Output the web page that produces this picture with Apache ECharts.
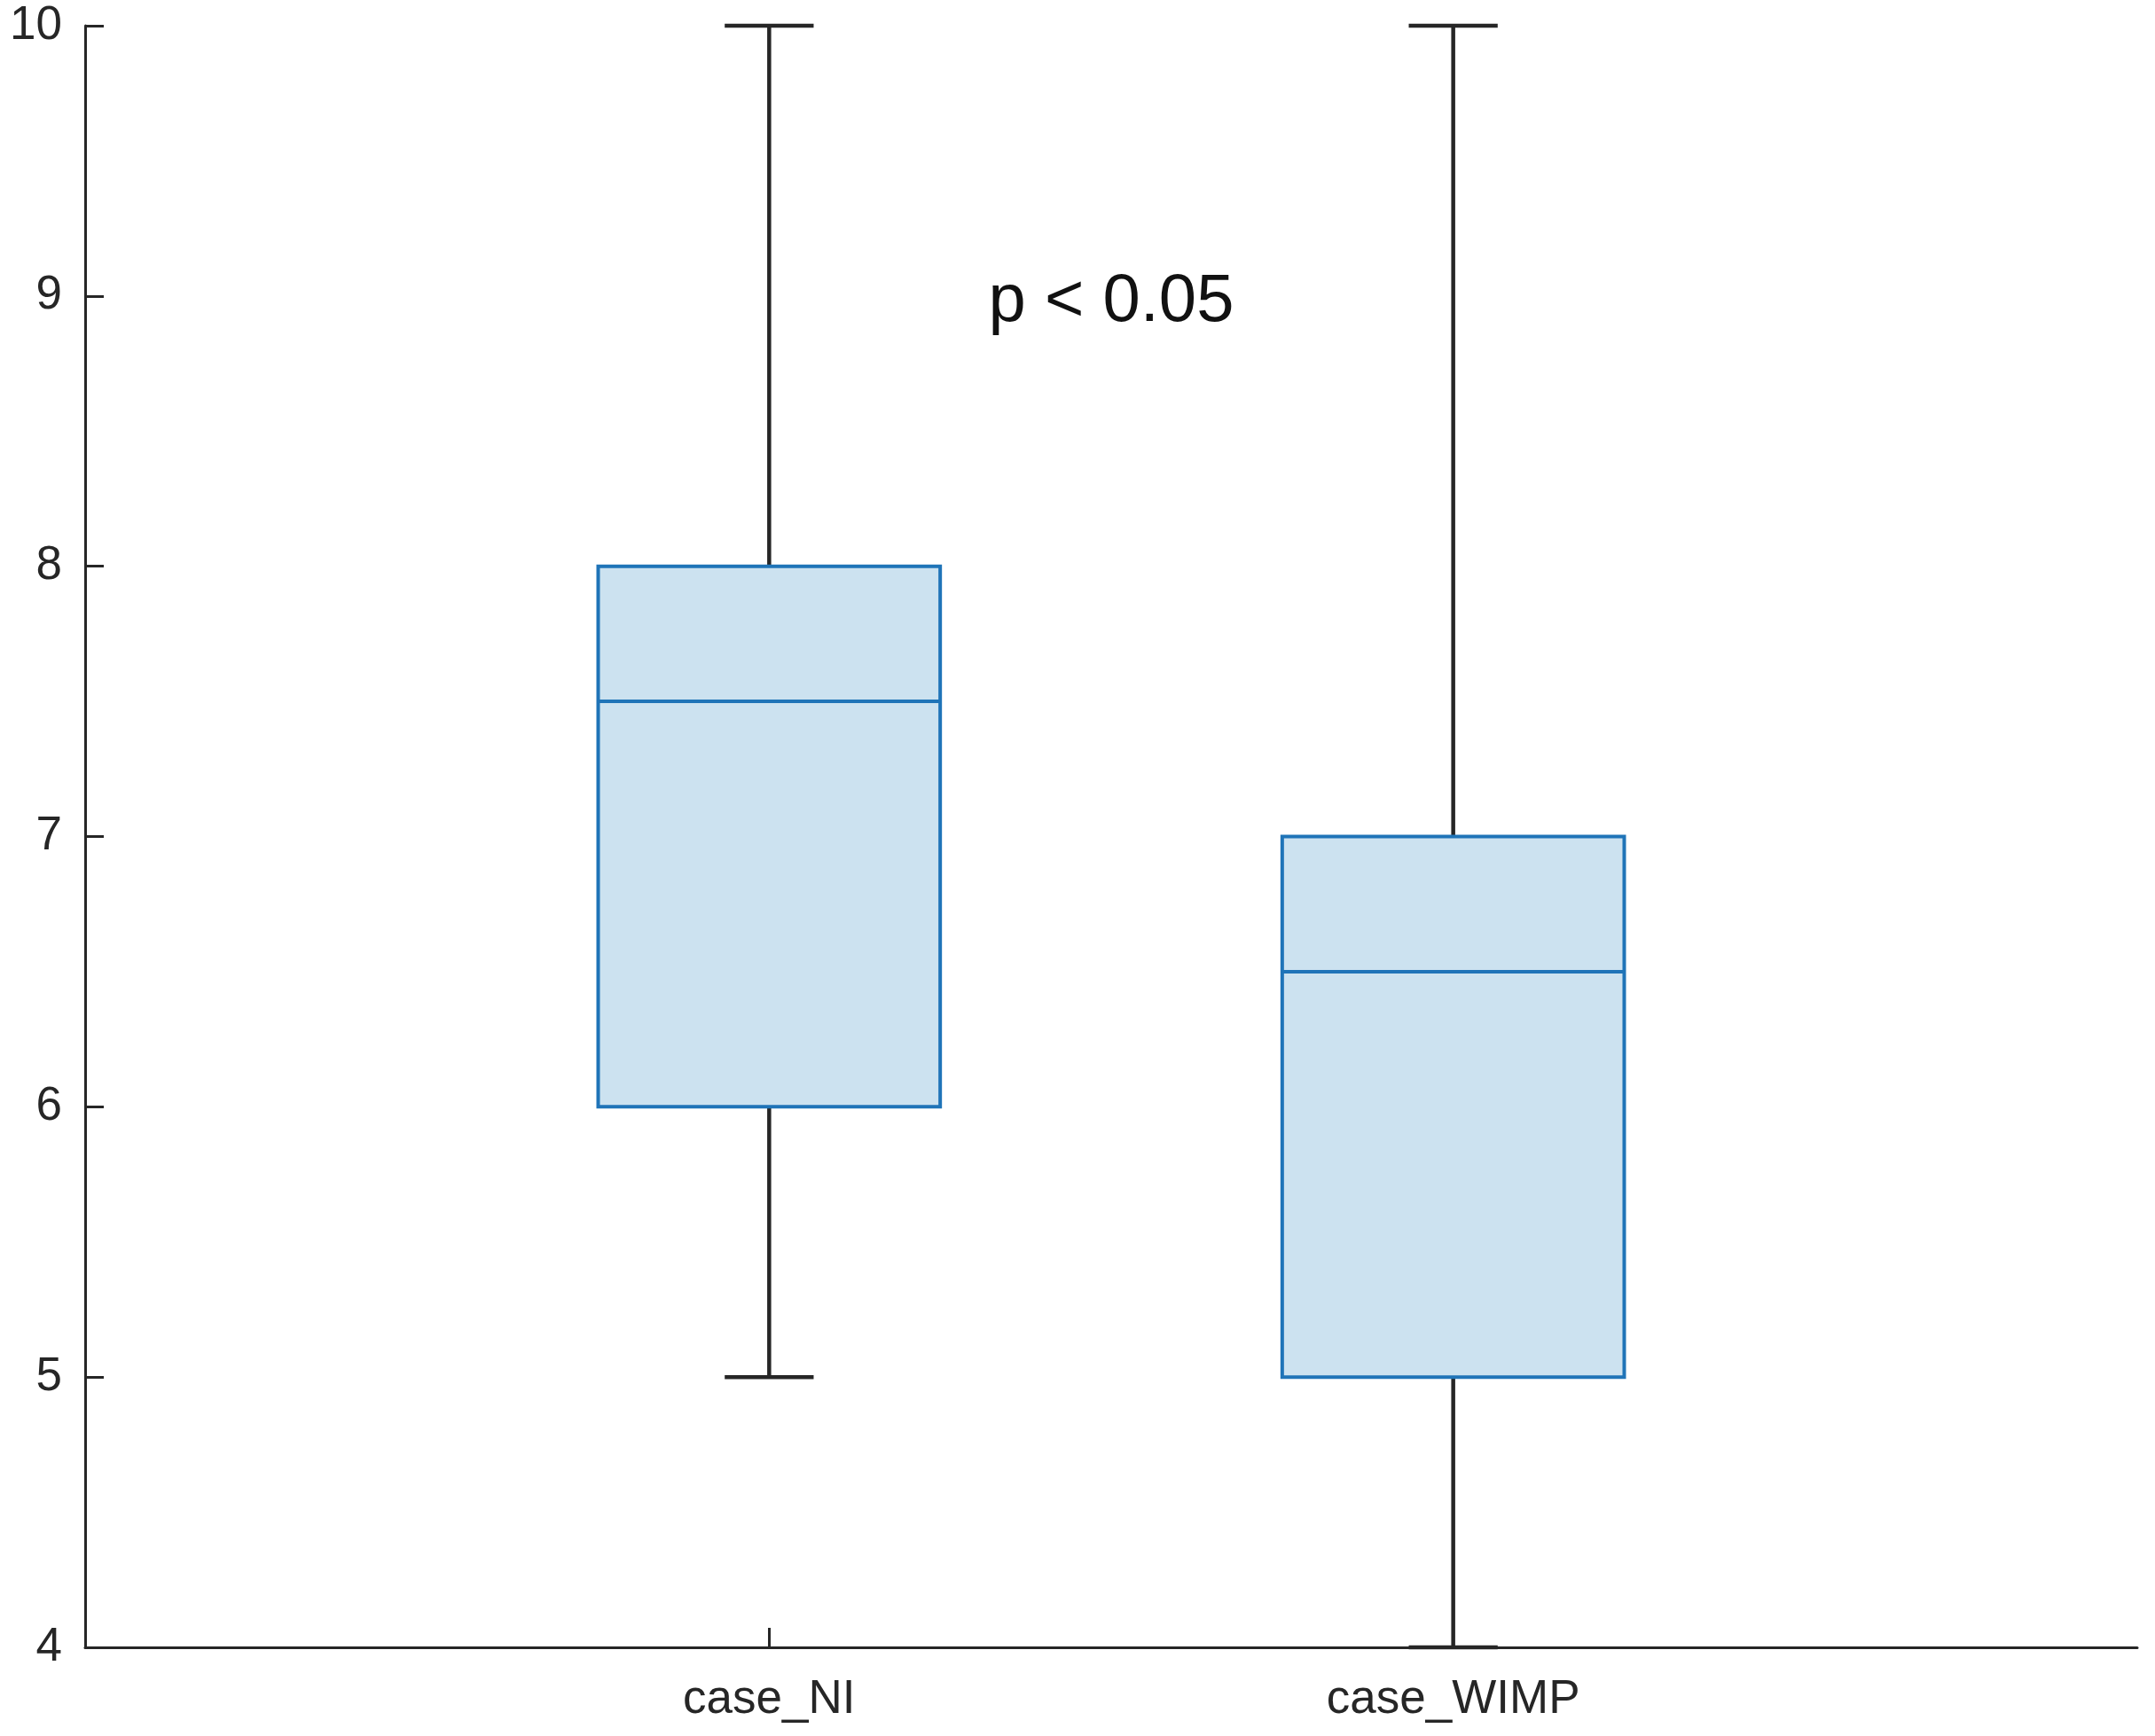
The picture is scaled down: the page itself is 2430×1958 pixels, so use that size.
<!DOCTYPE html>
<html>
<head>
<meta charset="utf-8">
<script src="https://cdn.jsdelivr.net/npm/echarts@6/dist/echarts.min.js"></script>
<style>html,body{margin:0;padding:0;background:#fff;}#c{width:2430px;height:1958px;}</style>
</head>
<body>
<div id="c"></div>
<script>
// Data
const categories = ['case_NI', 'case_WIMP'];
const positions = [1, 2];
const whiskerMin = [5, 4];
const q1 = [6, 5];
const median = [7.5, 6.5];
const q3 = [8, 7];
const whiskerMax = [10, 10];
const yTicks = [4, 5, 6, 7, 8, 9, 10];
const annotationText = 'p < 0.05';
const annotationPos = [1.5, 9];

const boxData = positions.map((p, i) => [p, whiskerMin[i], q1[i], median[i], q3[i], whiskerMax[i]]);

const TEXT = '#262626';
const BOX_EDGE = '#1f74b8';
const BOX_FILL = '#cce2f0';
const FONT = 'Liberation Sans, Arial, Helvetica, sans-serif';

const chart = echarts.init(document.getElementById('c'), null, {renderer: 'canvas'});

function renderBox(params, api) {
  const x = api.value(0);
  const vmin = api.value(1), vq1 = api.value(2), vmed = api.value(3), vq3 = api.value(4), vmax = api.value(5);
  const boxW = api.size([0.5, 0])[0];
  const capW = api.size([0.13, 0])[0];
  const pMin = api.coord([x, vmin]);
  const pQ1 = api.coord([x, vq1]);
  const pMed = api.coord([x, vmed]);
  const pQ3 = api.coord([x, vq3]);
  const pMax = api.coord([x, vmax]);
  const cx = pMin[0];
  const wStyle = {stroke: TEXT, lineWidth: 4.5};
  return {
    type: 'group',
    children: [
      {type: 'line', shape: {x1: cx, y1: pQ3[1], x2: cx, y2: pMax[1]}, style: wStyle},
      {type: 'line', shape: {x1: cx, y1: pMin[1], x2: cx, y2: pQ1[1]}, style: wStyle},
      {type: 'line', shape: {x1: cx - capW / 2, y1: pMax[1], x2: cx + capW / 2, y2: pMax[1]}, style: wStyle},
      {type: 'line', shape: {x1: cx - capW / 2, y1: pMin[1], x2: cx + capW / 2, y2: pMin[1]}, style: wStyle},
      {type: 'rect', shape: {x: cx - boxW / 2, y: pQ3[1], width: boxW, height: pQ1[1] - pQ3[1]},
        style: {fill: BOX_FILL, stroke: BOX_EDGE, lineWidth: 4}},
      {type: 'line', shape: {x1: cx - boxW / 2, y1: pMed[1], x2: cx + boxW / 2, y2: pMed[1]},
        style: {stroke: BOX_EDGE, lineWidth: 4}}
    ]
  };
}

function renderText(params, api) {
  const p = api.coord([api.value(0), api.value(1)]);
  return {
    type: 'text',
    style: {
      x: p[0], y: p[1] + 7, text: annotationText,
      font: '76px ' + FONT, fill: '#111', align: 'center', verticalAlign: 'middle'
    }
  };
}

chart.setOption({
  animation: false,
  backgroundColor: '#ffffff',
  grid: {left: 96, right: 20, top: 29, bottom: 100, containLabel: false},
  xAxis: {
    type: 'value', min: 0, max: 3, interval: 1,
    axisLine: {show: true, onZero: false, lineStyle: {color: TEXT, width: 3}},
    axisTick: {show: true, inside: true, length: 22, customValues: positions, lineStyle: {color: TEXT, width: 3}},
    axisLabel: {
      show: true, customValues: positions, margin: 33,
      color: TEXT, fontSize: 53, fontFamily: FONT,
      formatter: v => categories[positions.indexOf(v)] || ''
    },
    splitLine: {show: false}
  },
  yAxis: {
    type: 'value', min: yTicks[0], max: yTicks[yTicks.length - 1], interval: 1,
    axisLine: {show: true, onZero: false, lineStyle: {color: TEXT, width: 3}},
    axisTick: {show: true, inside: true, length: 21, lineStyle: {color: TEXT, width: 3}},
    axisLabel: {show: true, margin: 26, color: TEXT, fontSize: 53, fontFamily: FONT},
    splitLine: {show: false}
  },
  series: [
    {type: 'custom', renderItem: renderBox, data: boxData, encode: {x: 0, y: [1, 2, 3, 4, 5]}, clip: false},
    {type: 'custom', renderItem: renderText, data: [annotationPos], encode: {x: 0, y: 1}, silent: true}
  ]
});
</script>
</body>
</html>
